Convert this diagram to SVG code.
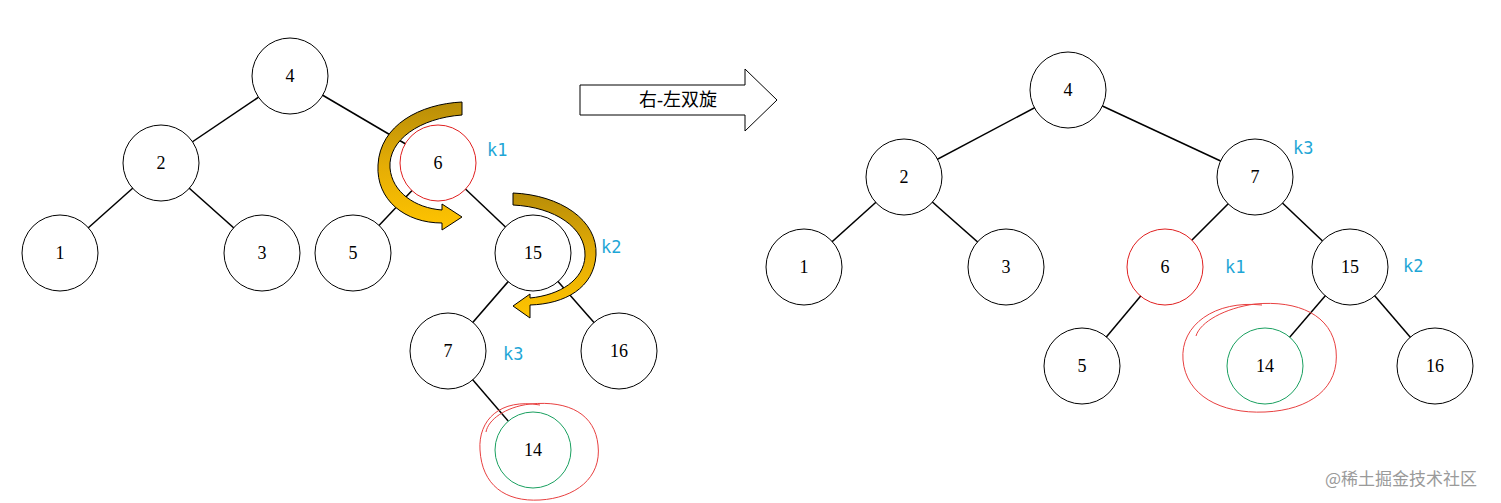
<svg xmlns="http://www.w3.org/2000/svg" width="1501" height="503" viewBox="0 0 1501 503">
<defs>
<linearGradient id="g" x1="0" y1="0" x2="0" y2="1"><stop offset="0" stop-color="#b88d08"/><stop offset="0.5" stop-color="#e5ad05"/><stop offset="1" stop-color="#ffc400"/></linearGradient>
</defs>
<style>
.n{fill:#fff;stroke:#000;stroke-width:1}
.r{stroke:#e02020}.gr{stroke:#1aa060}
text{font-family:"Liberation Serif","Noto Sans CJK SC",serif;font-size:18px;text-anchor:middle;dominant-baseline:central;fill:#000}
.k{fill:#1ea6d6;text-anchor:start;font-family:"DejaVu Sans Mono","Liberation Mono",monospace;font-size:17px}
.e line{stroke:#000;stroke-width:1.5}
.arr{fill:url(#g);stroke:#000;stroke-width:1}
</style>
<rect width="1501" height="503" fill="#fff"/>
<g id="connectors" class="e">
<line x1="290" y1="76" x2="161" y2="163"/><line x1="290" y1="76" x2="438" y2="163"/>
<line x1="161" y1="163" x2="60" y2="253"/><line x1="161" y1="163" x2="262" y2="253"/>
<line x1="438" y1="163" x2="353" y2="253"/><line x1="438" y1="163" x2="533" y2="253"/>
<line x1="533" y1="253" x2="448" y2="351"/><line x1="533" y1="253" x2="619" y2="351"/>
<line x1="448" y1="351" x2="533" y2="450"/>
<line x1="1068" y1="90" x2="904" y2="177"/><line x1="1068" y1="90" x2="1255" y2="177"/>
<line x1="904" y1="177" x2="804" y2="267"/><line x1="904" y1="177" x2="1006" y2="267"/>
<line x1="1255" y1="177" x2="1165" y2="267"/><line x1="1255" y1="177" x2="1350" y2="267"/>
<line x1="1165" y1="267" x2="1082" y2="366"/><line x1="1350" y1="267" x2="1265" y2="366"/><line x1="1350" y1="267" x2="1435" y2="366"/>
</g>
<g id="L4"><circle class="n" cx="290" cy="76" r="38"/><text x="290" y="76">4</text></g>
<g id="L2"><circle class="n" cx="161" cy="163" r="38"/><text x="161" y="163">2</text></g>
<g id="L6"><circle class="n r" cx="438" cy="163" r="38"/><text x="438" y="163">6</text></g>
<g id="L1"><circle class="n" cx="60" cy="253" r="38"/><text x="60" y="253">1</text></g>
<g id="L3"><circle class="n" cx="262" cy="253" r="38"/><text x="262" y="253">3</text></g>
<g id="L5"><circle class="n" cx="353" cy="253" r="38"/><text x="353" y="253">5</text></g>
<g id="L15"><circle class="n" cx="533" cy="253" r="38"/><text x="533" y="253">15</text></g>
<g id="L7"><circle class="n" cx="448" cy="351" r="38"/><text x="448" y="351">7</text></g>
<g id="L16"><circle class="n" cx="619" cy="351" r="38"/><text x="619" y="351">16</text></g>
<g id="L14"><circle class="n gr" cx="533" cy="450" r="38"/><text x="533" y="450">14</text></g>
<g id="R4"><circle class="n" cx="1068" cy="90" r="38"/><text x="1068" y="90">4</text></g>
<g id="R2"><circle class="n" cx="904" cy="177" r="38"/><text x="904" y="177">2</text></g>
<g id="R7"><circle class="n" cx="1255" cy="177" r="38"/><text x="1255" y="177">7</text></g>
<g id="R1"><circle class="n" cx="804" cy="267" r="38"/><text x="804" y="267">1</text></g>
<g id="R3"><circle class="n" cx="1006" cy="267" r="38"/><text x="1006" y="267">3</text></g>
<g id="R6"><circle class="n r" cx="1165" cy="267" r="38"/><text x="1165" y="267">6</text></g>
<g id="R15"><circle class="n" cx="1350" cy="267" r="38"/><text x="1350" y="267">15</text></g>
<g id="R5"><circle class="n" cx="1082" cy="366" r="38"/><text x="1082" y="366">5</text></g>
<g id="R14"><circle class="n gr" cx="1265" cy="366" r="38"/><text x="1265" y="366">14</text></g>
<g id="R16"><circle class="n" cx="1435" cy="366" r="38"/><text x="1435" y="366">16</text></g>
<g id="labels">
<text class="k" x="487" y="150">k1</text><text class="k" x="601" y="247">k2</text><text class="k" x="503" y="354">k3</text>
<text class="k" x="1293" y="148">k3</text><text class="k" x="1225" y="267">k1</text><text class="k" x="1403" y="266">k2</text>
</g>
<g id="rot1"><path class="arr" d="M462,102 L462,115 C420,118 388,140 390,168 C392,192 415,208 442,210 L442,204 L462,217 L442,230 L442,223 C405,223 376,200 378,165 C380,125 420,104 462,102 Z"/></g>
<g id="rot2"><path class="arr" d="M513,193 C560,195 598,220 596,255 C594,288 565,304 530,305 L530,318 L513,306 L530,294 L530,298 C560,295 584,280 585,256 C586,228 555,207 513,205 Z"/></g>
<g id="bigarrow"><path d="M580,85 L745,85 L745,69 L777,100 L745,131 L745,115 L580,115 Z" fill="#fff" stroke="#000" stroke-width="1"/><text x="678" y="100">右-左双旋</text></g>
<g id="scribbles" fill="none" stroke="#e84040" stroke-width="1">
<path d="M540,405 C500,398 478,420 480,450 C482,485 505,502 540,500 C575,498 602,478 598,445 C595,415 570,400 530,404 C505,407 488,420 486,432"/>
<path d="M1262,305 C1215,300 1180,325 1183,360 C1186,395 1220,414 1265,412 C1310,410 1340,388 1336,350 C1332,315 1298,300 1255,304 C1225,308 1200,322 1196,336"/>
</g>
<g id="wm"><text x="1325" y="477" style="fill:#9a9a9a;font-size:17px;text-anchor:start;font-family:'Noto Sans CJK SC',sans-serif">@稀土掘金技术社区</text></g>
</svg>
